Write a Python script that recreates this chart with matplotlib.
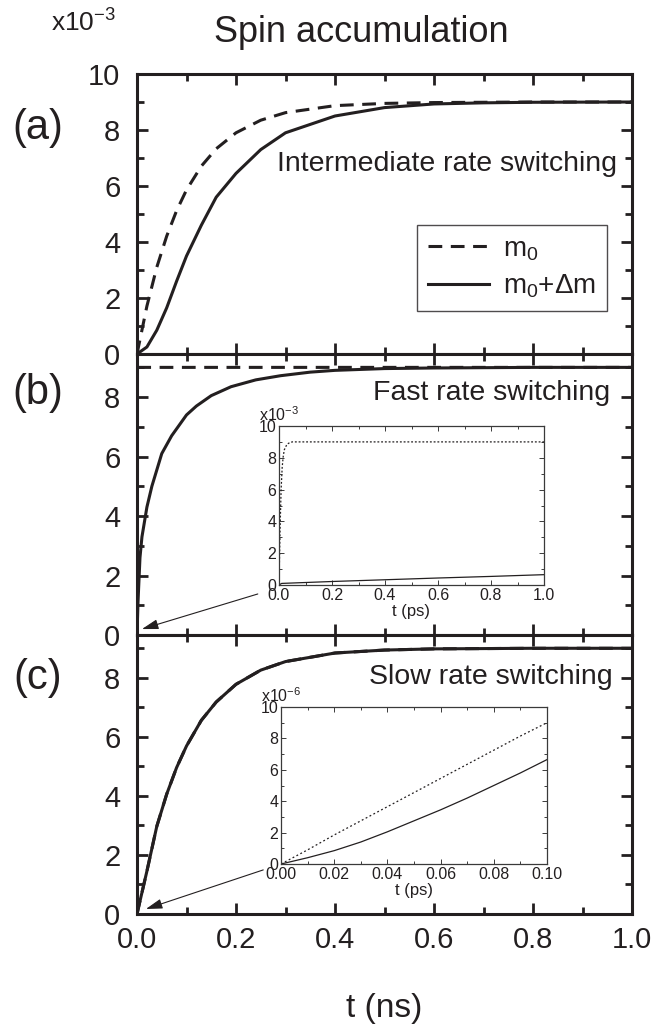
import matplotlib
matplotlib.use('Agg')
import matplotlib.pyplot as plt
from matplotlib.ticker import MultipleLocator

plt.rcParams['font.family'] = ['Liberation Sans', 'DejaVu Sans']
plt.rcParams['mathtext.fontset'] = 'custom'
plt.rcParams['mathtext.rm'] = 'Liberation Sans'
plt.rcParams['mathtext.it'] = 'Liberation Sans:italic'
plt.rcParams['mathtext.default'] = 'regular'

INK = '#231f20'

# (a) intermediate rate switching, t in ns, spin accumulation in 1e-3
t_a = [0, 0.02, 0.04, 0.06, 0.08, 0.10, 0.13, 0.16, 0.20, 0.25, 0.30, 0.40, 0.50, 0.60, 0.70, 0.80, 1.0]
m0_a = [0, 1.71, 3.10, 4.21, 5.12, 5.86, 6.71, 7.33, 7.90, 8.35, 8.62, 8.87, 8.95, 8.98, 8.99, 9.0, 9.0]
dm_a = [0, 0.25, 0.85, 1.65, 2.6, 3.5, 4.6, 5.6, 6.45, 7.3, 7.9, 8.5, 8.8, 8.93, 8.97, 8.99, 9.0]

# (b) fast rate switching
t_b0 = [0, 0.0005, 1.0]
m0_b = [0, 9.0, 9.0]
t_b = [0, 0.002, 0.006, 0.01, 0.02, 0.03, 0.05, 0.07, 0.10, 0.12, 0.15, 0.19, 0.24, 0.29, 0.35, 0.40,
       0.50, 0.60, 0.70, 0.80, 1.0]
dm_b = [0, 1.1, 2.6, 3.3, 4.3, 5.0, 6.1, 6.7, 7.4, 7.7, 8.05, 8.35, 8.58, 8.72, 8.84, 8.9,
        8.96, 8.98, 8.99, 9.0, 9.0]

# (c) slow rate switching
t_c = [0, 0.02, 0.04, 0.06, 0.08, 0.10, 0.13, 0.16, 0.20, 0.25, 0.30, 0.40, 0.50, 0.60, 0.70, 0.80, 1.0]
m0_c = [0, 1.45, 2.97, 4.06, 4.96, 5.69, 6.56, 7.18, 7.78, 8.26, 8.55, 8.84, 8.94, 8.98, 8.99, 9.0, 9.0]
dm_c = m0_c

# inset (b): t in ps, values in 1e-3
ti_b0 = [0, 0.004, 0.008, 0.012, 0.016, 0.02, 0.03, 0.04, 0.05, 0.07, 1.0]
mi_b0 = [0, 3.5, 6.0, 7.4, 8.1, 8.5, 8.85, 8.95, 9.0, 9.0, 9.0]
ti_b = [0, 0.01, 0.2, 0.4, 0.6, 0.8, 1.0]
mi_b = [0, 0.1, 0.22, 0.33, 0.44, 0.54, 0.65]

# inset (c): t in ps, values in 1e-6
ti_c = [0, 0.01, 0.02, 0.03, 0.04, 0.05, 0.06, 0.07, 0.08, 0.09, 0.10]
mi_c0 = [0, 0.9, 1.85, 2.75, 3.65, 4.55, 5.45, 6.35, 7.25, 8.15, 9.0]
mi_c = [0, 0.4, 0.85, 1.4, 2.05, 2.75, 3.45, 4.2, 5.0, 5.8, 6.65]

fig = plt.figure(figsize=(6.59, 10.24), dpi=100)

W, H = 659, 1024
left, right = 137, 632
panel_px = [(74, 354), (354, 635), (635, 914)]
axes = []
for top, bot in panel_px:
    ax = fig.add_axes([left / W, (H - bot) / H, (right - left) / W, (bot - top) / H],
                      sharex=axes[0] if axes else None)
    axes.append(ax)
ax_a, ax_b, ax_c = axes

for ax in axes:
    for s in ax.spines.values():
        s.set_linewidth(2.2)
        s.set_color(INK)
    ax.tick_params(which='both', direction='in', top=True, right=True, width=2.0,
                   colors=INK, labelsize=21)
    ax.tick_params(axis='y', pad=12)
    ax.tick_params(axis='x', pad=9)
    ax.tick_params(which='major', length=8)
    ax.tick_params(which='minor', length=5)
    ax.xaxis.set_major_locator(MultipleLocator(0.2))
    ax.xaxis.set_minor_locator(MultipleLocator(0.1))
    ax.yaxis.set_minor_locator(MultipleLocator(1))
    ax.set_xlim(0, 1.0)

ax_a.set_ylim(0, 10)
ax_a.set_yticks([0, 2, 4, 6, 8, 10])
for ax in (ax_b, ax_c):
    ax.set_ylim(0, 9.45)
    ax.set_yticks([0, 2, 4, 6, 8])
for ax in (ax_a, ax_b):
    ax.tick_params(labelbottom=False)
ax_c.xaxis.set_major_formatter(lambda v, p: f'{v:.1f}')

lw = 2.2
dash = (0, (4.5, 2.8))
ax_a.plot(t_a, m0_a, color=INK, lw=lw, ls=dash, label='m$_0$')
ax_a.plot(t_a, dm_a, color=INK, lw=lw, label='m$_0$+Δm')
ax_b.plot(t_b0, m0_b, color=INK, lw=lw, ls=dash)
ax_b.plot(t_b, dm_b, color=INK, lw=lw)
ax_c.plot(t_c, m0_c, color=INK, lw=lw, ls=dash)
ax_c.plot(t_c, dm_c, color=INK, lw=lw)

leg = ax_a.legend(loc='upper left', bbox_to_anchor=(0.566, 0.461), fontsize=20, handlelength=2.2,
                  frameon=True, fancybox=False, borderpad=0.4, labelspacing=0.35,
                  handletextpad=0.5, borderaxespad=0)
leg.get_frame().set_edgecolor(INK)
leg.get_frame().set_linewidth(1.0)
for txt in leg.get_texts():
    txt.set_color(INK)

ax_a.text(0.97, 0.68, 'Intermediate rate switching', transform=ax_a.transAxes, ha='right',
          va='center', fontsize=20.5, color=INK)
ax_b.text(0.955, 0.86, 'Fast rate switching', transform=ax_b.transAxes, ha='right',
          va='center', fontsize=20.5, color=INK)
ax_c.text(0.96, 0.85, 'Slow rate switching', transform=ax_c.transAxes, ha='right',
          va='center', fontsize=20.5, color=INK)

for ax, lab, yf in zip(axes, ['(a)', '(b)', '(c)'], [0.807, 0.86, 0.846]):
    ax.text(-0.2, yf, lab, transform=ax.transAxes, ha='center', va='center', fontsize=30, color=INK)

fig.text(84 / W, 1 - 23 / H, 'x10$^{-3}$', ha='center', va='center', fontsize=19, color=INK)
fig.text(361 / W, 1 - 33 / H, 'Spin accumulation', ha='center', va='center', fontsize=26, color=INK)
ax_c.set_xlabel('t (ns)', fontsize=24, color=INK, labelpad=28)

# insets
def make_inset(rect, xlim, xmajor, xminor, fmt):
    ins = fig.add_axes(rect)
    for s in ins.spines.values():
        s.set_linewidth(0.9)
        s.set_color('#3a3a3a')
    ins.tick_params(which='both', direction='in', top=True, right=True, width=0.7,
                    colors='#3a3a3a', labelsize=11.5, pad=2)
    ins.tick_params(which='major', length=3.5)
    ins.tick_params(which='minor', length=2)
    ins.set_xlim(*xlim)
    ins.set_ylim(0, 10)
    ins.xaxis.set_major_locator(MultipleLocator(xmajor))
    ins.xaxis.set_minor_locator(MultipleLocator(xminor))
    ins.yaxis.set_major_locator(MultipleLocator(2))
    ins.yaxis.set_minor_locator(MultipleLocator(1))
    ins.xaxis.set_major_formatter(lambda v, p: fmt.format(v))
    for lbl in ins.get_xticklabels() + ins.get_yticklabels():
        lbl.set_color(INK)
    ins.set_xlabel('t (ps)', fontsize=12, color=INK, labelpad=1)
    return ins

in_b = make_inset([279 / W, (H - 585) / H, 265 / W, 159 / H], (0, 1.0), 0.2, 0.1, '{:.1f}')
in_b.plot(ti_b0, mi_b0, color=INK, lw=0.9, ls=(0, (1.5, 1.5)))
in_b.plot(ti_b, mi_b, color=INK, lw=0.9)
in_b.text(0.0, 1.01, 'x10$^{-3}$', transform=in_b.transAxes, ha='center', va='bottom', fontsize=11.5, color=INK)

in_c = make_inset([281 / W, (H - 864) / H, 266 / W, 157 / H], (0, 0.10), 0.02, 0.01, '{:.2f}')
in_c.plot(ti_c, mi_c0, color=INK, lw=0.9, ls=(0, (1.5, 2.0)))
in_c.plot(ti_c, mi_c, color=INK, lw=0.9)
in_c.text(0.0, 1.01, 'x10$^{-6}$', transform=in_c.transAxes, ha='center', va='bottom', fontsize=11.5, color=INK)

arrow = dict(arrowstyle='-|>,head_length=1.0,head_width=0.3', lw=0.8, color=INK, shrinkA=0, shrinkB=0)
ax_b.annotate('', xy=(0.01, 0.2), xycoords='data', xytext=(0.244, 0.146), textcoords='axes fraction',
              arrowprops=arrow)
ax_c.annotate('', xy=(0.018, 0.17), xycoords='data', xytext=(0.255, 0.158), textcoords='axes fraction',
              arrowprops=arrow)

fig.savefig('out.png', dpi=100)
